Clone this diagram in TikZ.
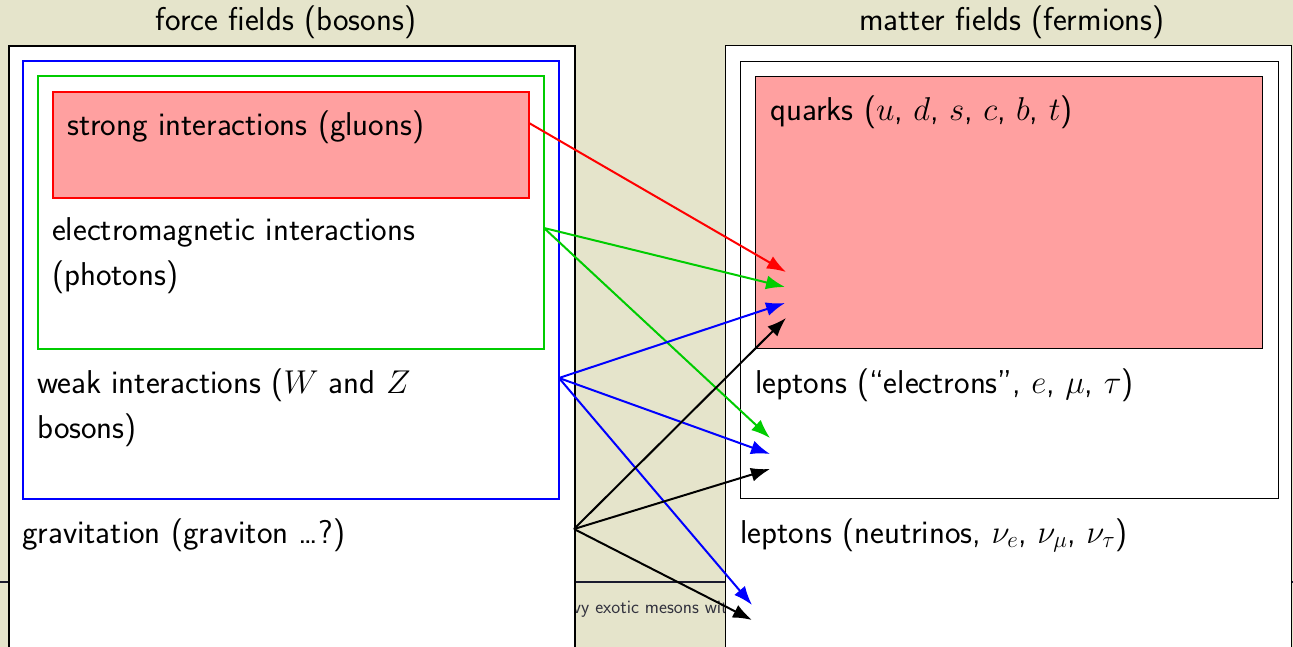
\RequirePackage{fix-cm}
\documentclass[tikz,border=0pt]{standalone}
\usepackage{fontspec}
\usetikzlibrary{arrows.meta,positioning}
\definecolor{slidebg}{RGB}{229,228,203}
\definecolor{quarkpink}{RGB}{255,160,160}
\definecolor{emgreen}{RGB}{0,204,0}
\definecolor{slideline}{RGB}{26,26,46}
\definecolor{slidetext}{RGB}{50,50,62}
\tikzset{
  fieldbox/.style={draw,line width=2pt,fill=white,inner sep=0pt,anchor=north west},
  fieldtext/.style={inner sep=0pt,anchor=base west,align=left,font=\fontsize{33}{45}\selectfont\sffamily},
  headline/.style={inner sep=0pt,anchor=base,font=\fontsize{33}{45}\selectfont\sffamily},
  couples/.style={line width=2pt,-{Latex[length=19pt,width=14pt]}}
}
\begin{document}
\begin{tikzpicture}[x=1pt,y=-1pt]
\useasboundingbox (0,0) rectangle (1293,647);
\clip (0,0) rectangle (1293,647);
\fill[slidebg] (0,0) rectangle (1293,647);
% what shows through from the slide below
\draw[slideline,line width=1.5pt] (0,582) -- (1293,582);
\node[inner sep=0pt,anchor=base west,text=slidetext,font=\fontsize{19}{22}\selectfont\sffamily] (mesons) at (547,613) {heavy exotic mesons with};

% force fields
\node[headline] (forcetitle) at (286,31) {force fields (bosons)};
\node[fieldbox,minimum width=566pt,minimum height=640pt] (forcebox) at (8,45) {};
\node[fieldbox,draw=blue,minimum width=536pt,minimum height=438pt] (weakbox) at (22,60) {};
\node[fieldbox,draw=emgreen,minimum width=506pt,minimum height=273pt] (emagbox) at (37,75) {};
\node[fieldbox,draw=red,fill=quarkpink,minimum width=476pt,minimum height=106pt] (strongbox) at (52,91) {};
\node[fieldtext] (strong) at (67,136) {strong interactions (gluons)};
% base of a two-line node is its last line
\node[fieldtext] (emag) at (52,285) {electromagnetic interactions\\(photons)};
\node[fieldtext] (weak) at (37,438) {weak interactions ($W$ and $Z$\\bosons)};
\node[fieldtext] (grav) at (22,543) {gravitation (graviton \dots?)};

% matter fields
\node[headline] (mattertitle) at (1012,31) {matter fields (fermions)};
\node[fieldbox,line width=1.3pt,minimum width=566pt,minimum height=640pt] (matterbox) at (725,45) {};
\node[fieldbox,line width=1.3pt,minimum width=538pt,minimum height=437pt] (chargedbox) at (740,61) {};
\node[fieldbox,line width=1.3pt,fill=quarkpink,minimum width=507pt,minimum height=272pt] (quarkbox) at (755,76) {};
\node[fieldtext] (quarks) at (770,121) {quarks ($u$, $d$, $s$, $c$, $b$, $t$)};
\node[fieldtext] (leptons) at (755,393) {leptons (``electrons'', $e$, $\mu$, $\tau$)};
\node[fieldtext] (neutrinos) at (740,543) {leptons (neutrinos, $\nu_e$, $\nu_\mu$, $\nu_\tau$)};

% where the couplings start and end
\coordinate (strongsrc) at (529,123);
\coordinate (emagsrc) at (544,228);
\coordinate (weaksrc) at (559,378);
\coordinate (gravsrc) at (574,529);
\coordinate (q1) at (786,272);
\coordinate (q2) at (785,287);
\coordinate (q3) at (785,303);
\coordinate (q4) at (786,318);
\coordinate (e2) at (770,438);
\coordinate (e3) at (770,454);
\coordinate (e4) at (770,469);
\coordinate (n3) at (752,605);
\coordinate (n4) at (752,620);

\draw[couples,red] (strongsrc) -- (q1);
\foreach \t in {q2,e2} \draw[couples,emgreen] (emagsrc) -- (\t);
\foreach \t in {q3,e3,n3} \draw[couples,blue] (weaksrc) -- (\t);
\foreach \t in {q4,e4,n4} \draw[couples,black] (gravsrc) -- (\t);
\end{tikzpicture}
\end{document}
